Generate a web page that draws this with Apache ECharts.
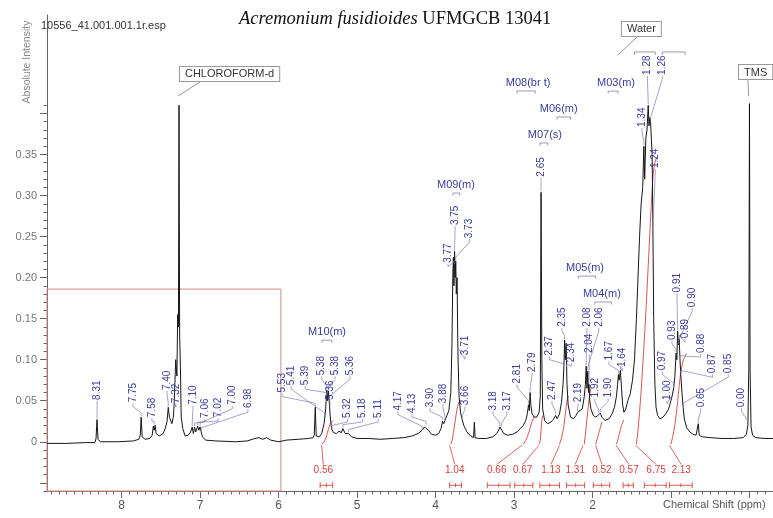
<!DOCTYPE html>
<html>
<head>
<meta charset="utf-8">
<script src="https://cdn.jsdelivr.net/npm/echarts@6/dist/echarts.min.js"></script>
<style>
  html, body { margin: 0; padding: 0; background: #fff; }
  #chart { width: 773px; height: 518px; }
</style>
</head>
<body>
<div id="chart"></div>
<script>
// ---- text ----
const titleSpecies = 'Acremonium fusidioides';
const titleStrain = 'UFMGCB 13041';
const fileName = '10556_41.001.001.1r.esp';
const xAxisTitle = 'Chemical Shift (ppm)';
const yAxisTitle = 'Absolute Intensity';

// ---- axes ----
const shiftRange = [-0.30, 8.95];
const intensityRange = [-0.06, 0.52];
const xTickLabels = [8, 7, 6, 5, 4, 3, 2];
const yTickLabels = [0, 0.05, 0.10, 0.15, 0.20, 0.25, 0.30, 0.35];

// ---- 1H spectrum trace, [shift ppm, intensity] ----
const aromaticTrace = [
  [8.95,-0.002],[8.70,-0.002],[8.45,-0.001],[8.34,-0.001],[8.325,0.004],[8.313,0.027],[8.30,0.003],[8.27,0.000],
  [8.05,0.000],[7.85,0.001],[7.78,0.003],[7.762,0.008],[7.75,0.030],[7.738,0.006],[7.70,0.003],[7.64,0.004],
  [7.61,0.008],[7.595,0.019],[7.585,0.014],[7.572,0.020],[7.56,0.010],[7.52,0.007],[7.47,0.010],[7.44,0.017],
  [7.42,0.025],[7.405,0.042],[7.39,0.030],[7.36,0.022],[7.34,0.030],[7.33,0.045],[7.31,0.100],[7.295,0.080],
  [7.285,0.155],[7.275,0.140],[7.268,0.410],[7.260,0.130],[7.25,0.090],[7.24,0.030],[7.22,0.016],[7.19,0.007],
  [7.15,0.008],[7.12,0.012],[7.10,0.018],[7.085,0.010],[7.07,0.018],[7.055,0.012],[7.03,0.019],[7.015,0.014],
  [7.00,0.018],[6.985,0.012],[6.97,0.006],[6.93,0.002],[6.80,0.001],[6.55,0.000],[6.40,0.001],[6.30,0.004],
  [6.25,0.005],[6.20,0.003],[6.15,0.005],[6.10,0.002],[6.00,0.000]
];
const olefinicTrace = [
  [5.90,0.002],[5.75,0.003],[5.62,0.004],[5.56,0.005],[5.545,0.008],[5.532,0.042],[5.52,0.007],[5.48,0.006],
  [5.45,0.010],[5.42,0.022],[5.41,0.030],[5.40,0.040],[5.39,0.055],[5.385,0.063],[5.375,0.050],[5.365,0.062],
  [5.355,0.050],[5.345,0.035],[5.33,0.020],[5.32,0.015],[5.30,0.011],[5.26,0.010],[5.23,0.013],[5.20,0.011],
  [5.18,0.016],[5.15,0.010],[5.11,0.010],[5.07,0.006],[5.00,0.004],[4.85,0.004],[4.70,0.003],[4.55,0.004],
  [4.40,0.005],[4.30,0.007],[4.22,0.010],[4.17,0.014],[4.14,0.018],[4.12,0.020],[4.09,0.014],[4.05,0.009],
  [4.00,0.008]
];
const oxygenatedTrace = [
  [3.96,0.010],[3.93,0.016],[3.91,0.025],[3.895,0.022],[3.88,0.026],[3.86,0.028],[3.83,0.038],[3.805,0.060],
  [3.79,0.120],[3.78,0.200],[3.772,0.225],[3.765,0.190],[3.757,0.232],[3.75,0.200],[3.742,0.220],[3.735,0.180],
  [3.725,0.200],[3.715,0.110],[3.70,0.055],[3.68,0.035],[3.66,0.027],[3.64,0.020],[3.60,0.012],[3.55,0.007],
  [3.515,0.005],[3.505,0.024],[3.495,0.005],[3.45,0.004],[3.35,0.004],[3.27,0.006],[3.22,0.010],[3.19,0.015],
  [3.18,0.018],[3.17,0.016],[3.16,0.017],[3.13,0.010],[3.08,0.008],[3.02,0.009]
];
const allylicTrace = [
  [2.96,0.012],[2.92,0.016],[2.88,0.020],[2.85,0.026],[2.83,0.034],[2.815,0.045],[2.805,0.038],[2.795,0.060],
  [2.785,0.045],[2.77,0.034],[2.74,0.030],[2.71,0.030],[2.68,0.036],[2.665,0.055],[2.655,0.304],[2.645,0.100],
  [2.635,0.040],[2.61,0.026],[2.57,0.022],[2.53,0.024],[2.50,0.027],[2.47,0.032],[2.45,0.028],[2.42,0.034],
  [2.395,0.048],[2.375,0.070],[2.365,0.090],[2.355,0.124],[2.345,0.100],[2.335,0.120],[2.325,0.070],[2.31,0.045],
  [2.28,0.030],[2.24,0.028],[2.21,0.032],[2.19,0.036],[2.17,0.034],[2.13,0.040],[2.105,0.055],[2.09,0.070],
  [2.08,0.092],[2.07,0.065],[2.06,0.086],[2.05,0.060],[2.045,0.070],[2.035,0.050],[2.02,0.040],[1.99,0.032],
  [1.96,0.030],[1.93,0.032],[1.92,0.034],[1.91,0.030],[1.90,0.035],[1.88,0.030],[1.84,0.026],[1.79,0.028],
  [1.75,0.034],[1.72,0.042],[1.695,0.055],[1.68,0.070],[1.67,0.082],[1.66,0.075],[1.645,0.087],[1.63,0.065],
  [1.615,0.045],[1.60,0.036],[1.575,0.040],[1.55,0.050]
];
const aliphaticTrace = [
  [1.52,0.058],[1.49,0.075],[1.465,0.100],[1.44,0.150],[1.42,0.200],[1.40,0.250],[1.38,0.290],[1.36,0.310],
  [1.345,0.360],[1.335,0.320],[1.32,0.370],[1.305,0.380],[1.29,0.410],[1.28,0.385],[1.27,0.395],[1.26,0.390],
  [1.25,0.370],[1.24,0.350],[1.23,0.260],[1.22,0.150],[1.205,0.070],[1.19,0.042],[1.17,0.032],[1.14,0.028],
  [1.10,0.030],[1.06,0.035],[1.03,0.040],[1.00,0.050],[0.98,0.058],[0.965,0.066],[0.95,0.080],[0.935,0.108],
  [0.925,0.100],[0.915,0.135],[0.905,0.118],[0.895,0.125],[0.885,0.100],[0.875,0.082],[0.86,0.060],[0.845,0.042],
  [0.83,0.028],[0.80,0.017],[0.76,0.012],[0.72,0.009],[0.68,0.008],[0.66,0.009],[0.652,0.022],[0.64,0.008],
  [0.60,0.006],[0.50,0.005],[0.35,0.004],[0.20,0.004],[0.08,0.005],[0.04,0.009],[0.02,0.020],[0.008,0.090],
  [0.0,0.412],[-0.008,0.090],[-0.02,0.018],[-0.04,0.008],[-0.08,0.005],[-0.20,0.004],[-0.30,0.004]
];
const spectrum = [].concat(aromaticTrace, olefinicTrace, oxygenatedTrace, allylicTrace, aliphaticTrace);

// ---- peak picking: label text, label foot [ppm, intensity], peak it points at ----
const peakLabels = ['8.31','7.75','7.58','7.40','7.32','7.10','7.06','7.02','7.00','6.98',
  '5.53','5.41','5.39','5.38','5.38','5.36','5.36','5.32','5.18','5.11','4.17','4.13','3.90','3.88',
  '3.66','3.71','3.77','3.75','3.73','3.18','3.17','2.81','2.79','2.65','2.47','2.37','2.35','2.34',
  '2.19','2.08','2.06','2.04','1.92','1.90','1.67','1.64','1.34','1.28','1.26','1.24','1.00','0.97',
  '0.93','0.91','0.90','0.89','0.88','0.87','0.85','0.65','0.00'];
const peakLabelFoot = [[8.31,0.051],[7.855,0.048],[7.613,0.030],[7.42,0.063],[7.307,0.047],[7.09,0.045],
  [6.94,0.029],[6.77,0.030],[6.59,0.045],[6.39,0.041],[5.956,0.060],[5.84,0.069],[5.66,0.069],[5.45,0.081],
  [5.28,0.081],[5.09,0.081],[5.345,0.051],[5.12,0.029],[4.93,0.029],[4.73,0.029],[4.48,0.038],[4.30,0.035],
  [4.07,0.042],[3.906,0.047],[3.625,0.0445],[3.625,0.1055],[3.84,0.218],[3.75,0.264],[3.57,0.248],
  [3.267,0.038],[3.09,0.038],[2.96,0.071],[2.77,0.085],[2.655,0.323],[2.516,0.051],[2.55,0.105],
  [2.39,0.140],[2.27,0.097],[2.186,0.048],[2.07,0.140],[1.92,0.140],[2.04,0.108],[1.97,0.054],
  [1.80,0.054],[1.79,0.099],[1.62,0.091],[1.37,0.3835],[1.30,0.447],[1.11,0.447],[1.20,0.3335],
  [1.05,0.051],[1.11,0.087],[0.987,0.124],[0.924,0.182],[0.73,0.164],[0.82,0.126],[0.62,0.108],
  [0.47,0.0835],[0.27,0.0835],[0.62,0.042],[0.10,0.042]];
const peakTops = [[8.313,0.027],[7.75,0.030],[7.585,0.020],[7.405,0.042],[7.33,0.045],[7.10,0.018],
  [7.07,0.018],[7.03,0.019],[7.00,0.018],[6.985,0.012],[5.532,0.042],[5.41,0.030],[5.39,0.055],[5.385,0.063],
  [5.365,0.062],[5.355,0.050],[5.345,0.035],[5.32,0.015],[5.18,0.016],[5.11,0.010],[4.17,0.014],[4.12,0.020],
  [3.91,0.025],[3.88,0.026],[3.66,0.027],[3.715,0.110],[3.76,0.215],[3.757,0.232],[3.742,0.220],
  [3.18,0.018],[3.16,0.017],[2.815,0.045],[2.795,0.060],[2.655,0.304],[2.47,0.032],[2.365,0.090],
  [2.355,0.124],[2.33,0.090],[2.19,0.036],[2.08,0.092],[2.06,0.086],[2.045,0.070],[1.92,0.034],
  [1.90,0.035],[1.67,0.082],[1.645,0.087],[1.345,0.360],[1.29,0.410],[1.26,0.390],[1.23,0.260],
  [1.00,0.050],[0.965,0.066],[0.935,0.108],[0.915,0.135],[0.905,0.118],[0.895,0.125],[0.885,0.100],
  [0.875,0.082],[0.845,0.042],[0.652,0.022],[0.02,0.020]];

// ---- multiplet analysis ----
const multipletNames = ['M10(m)','M09(m)','M08(br t)','M07(s)','M06(m)','M05(m)','M04(m)','M03(m)'];
const multipletLabelAt = [[5.382,0.1335],[3.74,0.3128],[2.82,0.4372],[2.606,0.3738],[2.43,0.4055],
  [2.095,0.2116],[1.88,0.180],[1.70,0.437]];
const multipletSpans = [[5.447,5.32],[3.78,3.69],[2.96,2.73],[2.67,2.57],[2.45,2.28],[2.18,1.96],
  [1.97,1.76],[1.80,1.675]];
const unlabeledSpans = [[1.465,1.20],[1.11,0.82]];
const unlabeledSpanLevel = 0.475;

// ---- annotations: name, box corner [ppm, intensity], tail start ppm, tail end [ppm, intensity] ----
const annotationNames = ['CHLOROFORM-d','Water','TMS'];
const annotationBox = [[7.256,0.4567],[1.625,0.5116],[0.133,0.459]];
const annotationTailStart = [7.00, 1.43, 0.02];
const annotationTailEnd = [[7.28,0.4213],[1.675,0.4713],[0.01,0.4213]];

// ---- integrals ----
const integralValues = [0.56, 1.04, 0.66, 0.67, 1.13, 1.31, 0.52, 0.57, 6.75, 2.13];
const integralRanges = [[5.45,5.30],[3.82,3.68],[2.90,2.74],[2.68,2.62],[2.42,2.30],[2.12,2.00],
  [1.96,1.86],[1.70,1.60],[1.45,1.15],[1.02,0.80]];
const integralLabelShift = [5.43, 3.755, 3.22, 2.89, 2.53, 2.22, 1.88, 1.535, 1.19, 0.87];
const integralBrackets = [[5.47,5.31],[3.82,3.67],[3.34,3.05],[2.99,2.76],[2.67,2.42],[2.33,2.10],
  [1.99,1.78],[1.61,1.48],[1.34,1.06],[1.02,0.73]];

// ---- zoom window marked on the aromatic region ----
const zoomWindowShift = [8.95, 5.97];
const zoomWindowIntensity = [-0.06, 0.186];

// ---- styling ----
const BLUE = '#3b3b9e';
const LEADER = '#7d7db5';
const RED = '#d2433f';
const SANS = '"Liberation Sans", Arial, sans-serif';
const integralScale = 0.052;   // curve rise per integral unit
const integralBase = -0.003;
const integralLabelLevel = -0.035;
const integralBracketLevel = -0.053;

// cumulative (trapezoid) integral of the trace over one range, scaled to its value
function integralTrace(range, value) {
  const pts = spectrum.filter(p => p[0] <= range[0] && p[0] >= range[1]);
  const out = [[pts[0][0], 0]];
  let acc = 0;
  for (let k = 1; k < pts.length; k++) {
    acc += (pts[k - 1][0] - pts[k][0]) * (Math.max(pts[k - 1][1], 0) + Math.max(pts[k][1], 0)) / 2;
    out.push([pts[k][0], acc]);
  }
  const rise = value * integralScale;
  return out.map(p => [p[0], integralBase + rise * p[1] / acc]);
}

const minorShiftTicks = [];
for (let k = -2; k <= 89; k++) minorShiftTicks.push(k / 10);
const majorShiftTicks = [0, 1, 2, 3, 4, 5, 6, 7, 8];
const minorIntensityTicks = [];
for (let k = -6; k <= 41; k++) minorIntensityTicks.push(k / 100);
const majorIntensityTicks = [-0.05, 0, 0.05, 0.10, 0.15, 0.20, 0.25, 0.30, 0.35, 0.40];

const axisGrey = '#666';

const chart = echarts.init(document.getElementById('chart'), null, { renderer: 'canvas' });

const integralSeries = integralValues.map((v, i) => ({
  type: 'line',
  data: integralTrace(integralRanges[i], v),
  symbol: 'none',
  lineStyle: { color: RED, width: 0.9 },
  silent: true,
  z: 3
}));

chart.setOption({
  animation: false,
  backgroundColor: '#fff',
  title: {
    text: '{i|' + titleSpecies + '} {n|' + titleStrain + '}',
    left: 234, top: 5,
    textStyle: {
      fontFamily: '"Liberation Serif", serif', fontSize: 18.5, fontWeight: 'normal', color: '#111',
      rich: {
        i: { fontFamily: '"Liberation Serif", serif', fontStyle: 'italic', fontSize: 18.5, color: '#111' },
        n: { fontFamily: '"Liberation Serif", serif', fontSize: 18.5, color: '#111' }
      }
    }
  },
  grid: { left: 47, right: 0, top: 15, bottom: 27, containLabel: false },
  xAxis: [{
    type: 'value', inverse: true, min: shiftRange[0], max: shiftRange[1], position: 'bottom',
    axisLine: { show: true, onZero: false, lineStyle: { color: axisGrey, width: 1 } },
    axisTick: { show: true, customValues: minorShiftTicks, length: 3.5, lineStyle: { color: axisGrey } },
    axisLabel: { customValues: xTickLabels, margin: 9, color: '#555', fontFamily: SANS, fontSize: 12,
      formatter: v => String(v) },
    splitLine: { show: false }
  }, {
    type: 'value', inverse: true, min: shiftRange[0], max: shiftRange[1], position: 'bottom',
    axisLine: { show: false, onZero: false },
    axisTick: { show: true, customValues: majorShiftTicks, length: 7, lineStyle: { color: axisGrey } },
    axisLabel: { show: false },
    splitLine: { show: false }
  }],
  yAxis: [{
    type: 'value', min: intensityRange[0], max: intensityRange[1], position: 'left',
    axisLine: { show: true, onZero: false, lineStyle: { color: axisGrey, width: 1 } },
    axisTick: { show: true, customValues: minorIntensityTicks, length: 3.5, lineStyle: { color: axisGrey } },
    axisLabel: { customValues: yTickLabels, margin: 10, color: '#777', fontFamily: SANS, fontSize: 11,
      formatter: v => (v === 0 ? '0' : v.toFixed(2)) },
    splitLine: { show: false }
  }, {
    type: 'value', min: intensityRange[0], max: intensityRange[1], position: 'left', offset: 0,
    axisLine: { show: false, onZero: false },
    axisTick: { show: true, customValues: majorIntensityTicks, length: 7, lineStyle: { color: axisGrey } },
    axisLabel: { show: false },
    splitLine: { show: false }
  }],
  graphic: [
    { type: 'text', left: 41, top: 20, z: 10,
      style: { text: fileName, font: '11px ' + SANS, fill: '#333' } },
    { type: 'text', x: 27, y: 62, rotation: Math.PI / 2, z: 10,
      style: { text: yAxisTitle, font: '10.5px ' + SANS, fill: '#8a8a8a',
        align: 'center', verticalAlign: 'middle', textAlign: 'center', textVerticalAlign: 'middle' } },
    { type: 'text', left: 663, top: 499, z: 10,
      style: { text: xAxisTitle, font: '11px ' + SANS, fill: '#555' } }
  ],
  series: [
    {
      type: 'line',
      data: spectrum,
      symbol: 'none',
      lineStyle: { color: '#161616', width: 1 },
      silent: true,
      z: 4,
      markArea: {
        silent: true,
        itemStyle: { color: 'rgba(0,0,0,0)', borderColor: '#d98585', borderWidth: 1 },
        data: [[{ coord: [zoomWindowShift[0], zoomWindowIntensity[0]] },
                { coord: [zoomWindowShift[1], zoomWindowIntensity[1]] }]]
      }
    },
    ...integralSeries,
    {
      // peak picking labels with leader lines
      type: 'custom', silent: true, z: 6,
      data: peakLabels.map((t, i) => [peakLabelFoot[i][0], peakLabelFoot[i][1], peakTops[i][0], peakTops[i][1]]),
      encode: { x: [0, 2], y: [1, 3] },
      renderItem: (params, api) => {
        const i = params.dataIndex;
        const a = api.coord([api.value(0), api.value(1)]);
        const b = api.coord([api.value(2), api.value(3)]);
        return {
          type: 'group',
          children: [
            { type: 'polyline',
              shape: { points: [[a[0], a[1] + 1], [a[0], a[1] + 4], [b[0], b[1] - 4], [b[0], b[1] - 1]] },
              style: { stroke: LEADER, lineWidth: 0.7, fill: null } },
            { type: 'text', x: a[0], y: a[1], rotation: Math.PI / 2,
              style: { text: peakLabels[i], fill: BLUE, font: '10px ' + SANS,
                align: 'left', verticalAlign: 'middle', textAlign: 'left', textVerticalAlign: 'middle' } }
          ]
        };
      }
    },
    {
      // multiplet names with their range brackets
      type: 'custom', silent: true, z: 6,
      data: multipletNames.map((t, i) => [multipletLabelAt[i][0], multipletLabelAt[i][1], multipletSpans[i][0], multipletSpans[i][1]]),
      encode: { x: [0, 2, 3], y: [1] },
      renderItem: (params, api) => {
        const i = params.dataIndex;
        const c = api.coord([api.value(0), api.value(1)]);
        const l = api.coord([api.value(2), api.value(1)])[0];
        const r = api.coord([api.value(3), api.value(1)])[0];
        const y = c[1] + 8;
        return {
          type: 'group',
          children: [
            { type: 'text', x: c[0], y: c[1],
              style: { text: multipletNames[i], fill: BLUE, font: '11px ' + SANS,
                align: 'center', verticalAlign: 'middle', textAlign: 'center', textVerticalAlign: 'middle' } },
            { type: 'polyline', shape: { points: [[l, y + 2.5], [l, y], [r, y], [r, y + 2.5]] },
              style: { stroke: LEADER, lineWidth: 0.8, fill: null } }
          ]
        };
      }
    },
    {
      // range brackets without names
      type: 'custom', silent: true, z: 6,
      data: unlabeledSpans.map(s => [s[0], s[1], unlabeledSpanLevel]),
      encode: { x: [0, 1], y: [2] },
      renderItem: (params, api) => {
        const l = api.coord([api.value(0), api.value(2)]);
        const r = api.coord([api.value(1), api.value(2)]);
        return { type: 'polyline', shape: { points: [[l[0], l[1] + 3], [l[0], l[1]], [r[0], r[1]], [r[0], r[1] + 3]] },
          style: { stroke: '#9a9a9a', lineWidth: 1, fill: null } };
      }
    },
    {
      // boxed annotations (solvent, water, reference)
      type: 'custom', silent: true, z: 7,
      data: annotationNames.map((t, i) => [annotationBox[i][0], annotationBox[i][1], annotationTailStart[i],
        annotationTailEnd[i][0], annotationTailEnd[i][1]]),
      encode: { x: [0, 2, 3], y: [1, 4] },
      renderItem: (params, api) => {
        const i = params.dataIndex;
        const box = api.coord([api.value(0), api.value(1)]);
        const s = api.coord([api.value(2), api.value(1)])[0];
        const e = api.coord([api.value(3), api.value(4)]);
        const bottom = box[1] + 15;
        return {
          type: 'group',
          children: [
            { type: 'polyline', shape: { points: [[s, bottom], [e[0], e[1]]] },
              style: { stroke: '#8a8a8a', lineWidth: 0.9, fill: null } },
            { type: 'text', x: box[0], y: box[1],
              style: { text: annotationNames[i], fill: '#333', font: '11px ' + SANS,
                align: 'left', verticalAlign: 'top', textAlign: 'left', textVerticalAlign: 'top',
                padding: [2, 5, 1, 5], backgroundColor: '#fff', borderColor: '#9a9a9a', borderWidth: 1 } }
          ]
        };
      }
    },
    {
      // integral values, brackets and leaders to the integral curves
      type: 'custom', silent: true, z: 6,
      data: integralValues.map((v, i) => [integralLabelShift[i], integralBrackets[i][0], integralBrackets[i][1],
        integralRanges[i][0], integralLabelLevel]),
      encode: { x: [0, 1, 2, 3], y: [4] },
      renderItem: (params, api) => {
        const i = params.dataIndex;
        const lab = api.coord([api.value(0), integralLabelLevel]);
        const bl = api.coord([api.value(1), integralBracketLevel]);
        const br = api.coord([api.value(2), integralBracketLevel]);
        const st = api.coord([api.value(3), integralBase]);
        const by = bl[1];
        const mid = (bl[0] + br[0]) / 2;
        return {
          type: 'group',
          children: [
            { type: 'text', x: lab[0], y: lab[1],
              style: { text: integralValues[i].toFixed(2), fill: RED, font: '10px ' + SANS,
                align: 'center', verticalAlign: 'middle', textAlign: 'center', textVerticalAlign: 'middle' } },
            { type: 'polyline', shape: { points: [[lab[0], lab[1] - 6], [st[0], st[1] + 1]] },
              style: { stroke: RED, lineWidth: 0.8, fill: null } },
            { type: 'polyline', shape: { points: [[bl[0], by], [br[0], by]] },
              style: { stroke: RED, lineWidth: 0.9, fill: null } },
            { type: 'polyline', shape: { points: [[bl[0], by - 3], [bl[0], by + 3]] },
              style: { stroke: RED, lineWidth: 0.9, fill: null } },
            { type: 'polyline', shape: { points: [[br[0], by - 3], [br[0], by + 3]] },
              style: { stroke: RED, lineWidth: 0.9, fill: null } },
            { type: 'polyline', shape: { points: [[mid, by - 2], [mid, by + 2]] },
              style: { stroke: RED, lineWidth: 0.8, fill: null } }
          ]
        };
      }
    }
  ]
});
</script>
</body>
</html>
